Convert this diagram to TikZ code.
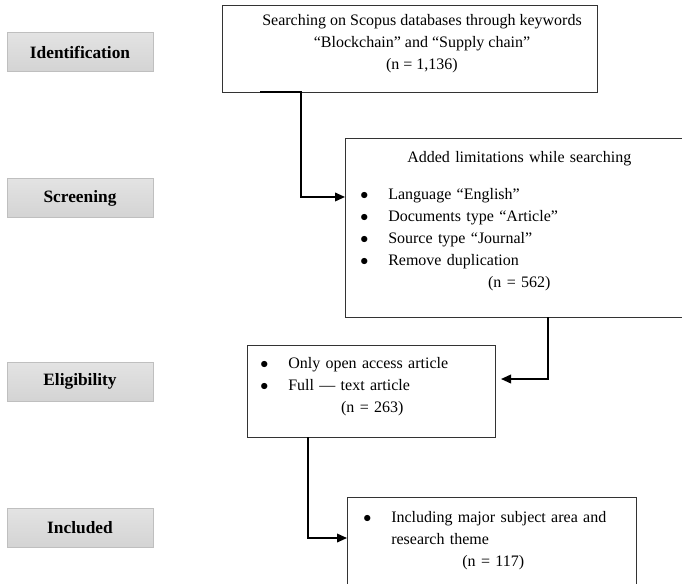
\documentclass[tikz,border=0pt]{standalone}
\usepackage{fontspec}
\setmainfont{Liberation Serif}
\usetikzlibrary{arrows.meta, positioning}
\setlength{\parindent}{0pt}
\tikzset{
  stagenode/.style={rectangle,top color=gray!22,bottom color=gray!34,draw=gray!50,
    minimum width=109.5pt,minimum height=29.25pt,inner sep=0pt,
    font=\bfseries\fontsize{13pt}{15pt}\selectfont},
  boxnode/.style={rectangle,draw=black!80,line width=0.6pt,inner sep=0pt,outer sep=0pt},
  txtnode/.style={inner sep=0pt,font=\fontsize{12pt}{16.5pt}\selectfont},
  arr/.style={-{Triangle[length=7.5pt,width=6.5pt]},line width=1.2pt,draw=black}
}
\newcommand{\itembul}{\makebox[21pt][l]{$\bullet$}}

\begin{document}
\begin{tikzpicture}[x=0.75pt,y=-0.75pt]
\useasboundingbox (0,0) rectangle (682,583);

% Stages
\node[stagenode] (ident) at (80,52) {Identification};
\node[stagenode] (screen) at (80,198) {Screening};
\node[stagenode] (elig) at (80,381.5) {Eligibility};
\node[stagenode] (incl) at (80,528) {Included};

% Boxes
\node[boxnode,minimum width=281.25pt,minimum height=65.25pt] (search) at (409.5,48.5) {};
\node[boxnode,minimum width=261pt,minimum height=134.25pt] (limits) at (519,227.5) {};
\node[boxnode,minimum width=186pt,minimum height=69pt] (access) at (371,391) {};
\node[boxnode,minimum width=216.75pt,minimum height=75pt] (subject) at (491.5,547) {};

% Box texts
\node[txtnode,align=center,anchor=north] (searchtxt) at (422,14.5) {
  Searching on Scopus databases through keywords\\
  “Blockchain” and “Supply chain”\\
  (n = 1,136)
};
\node[txtnode,text width=238.5pt,align=left,anchor=north west] (limitstxt) at (360,151.5) {
  {\centering Added limitations while searching\par}
  \vspace{11pt}
  \itembul Language “English”\par
  \itembul Documents type “Article”\par
  \itembul Source type “Journal”\par
  \itembul Remove duplication\par
  {\centering (n = 562)\par}
};
\node[txtnode,text width=168pt,align=left,anchor=north west] (accesstxt) at (260,357.5) {
  \itembul Only open access article\par
  \itembul Full — text article\par
  {\centering (n = 263)\par}
};
\node[txtnode,text width=195pt,align=left,anchor=north west] (subjecttxt) at (363,511.5) {
  \itembul Including major subject area and\par
  \hspace*{21pt}research theme\par
  {\centering (n = 117)\par}
};

% Flow
\draw[arr] ([xshift=28.5pt]search.south west) -- ++(41,0) |- ([yshift=22.9pt]limits.west);
\draw[arr] ([xshift=152.25pt]limits.south west) |- ([xshift=4.5pt,yshift=9pt]access.east);
\draw[arr] ([xshift=45.75pt]access.south west) |- ([yshift=6.75pt]subject.west);

\end{tikzpicture}
\end{document}
